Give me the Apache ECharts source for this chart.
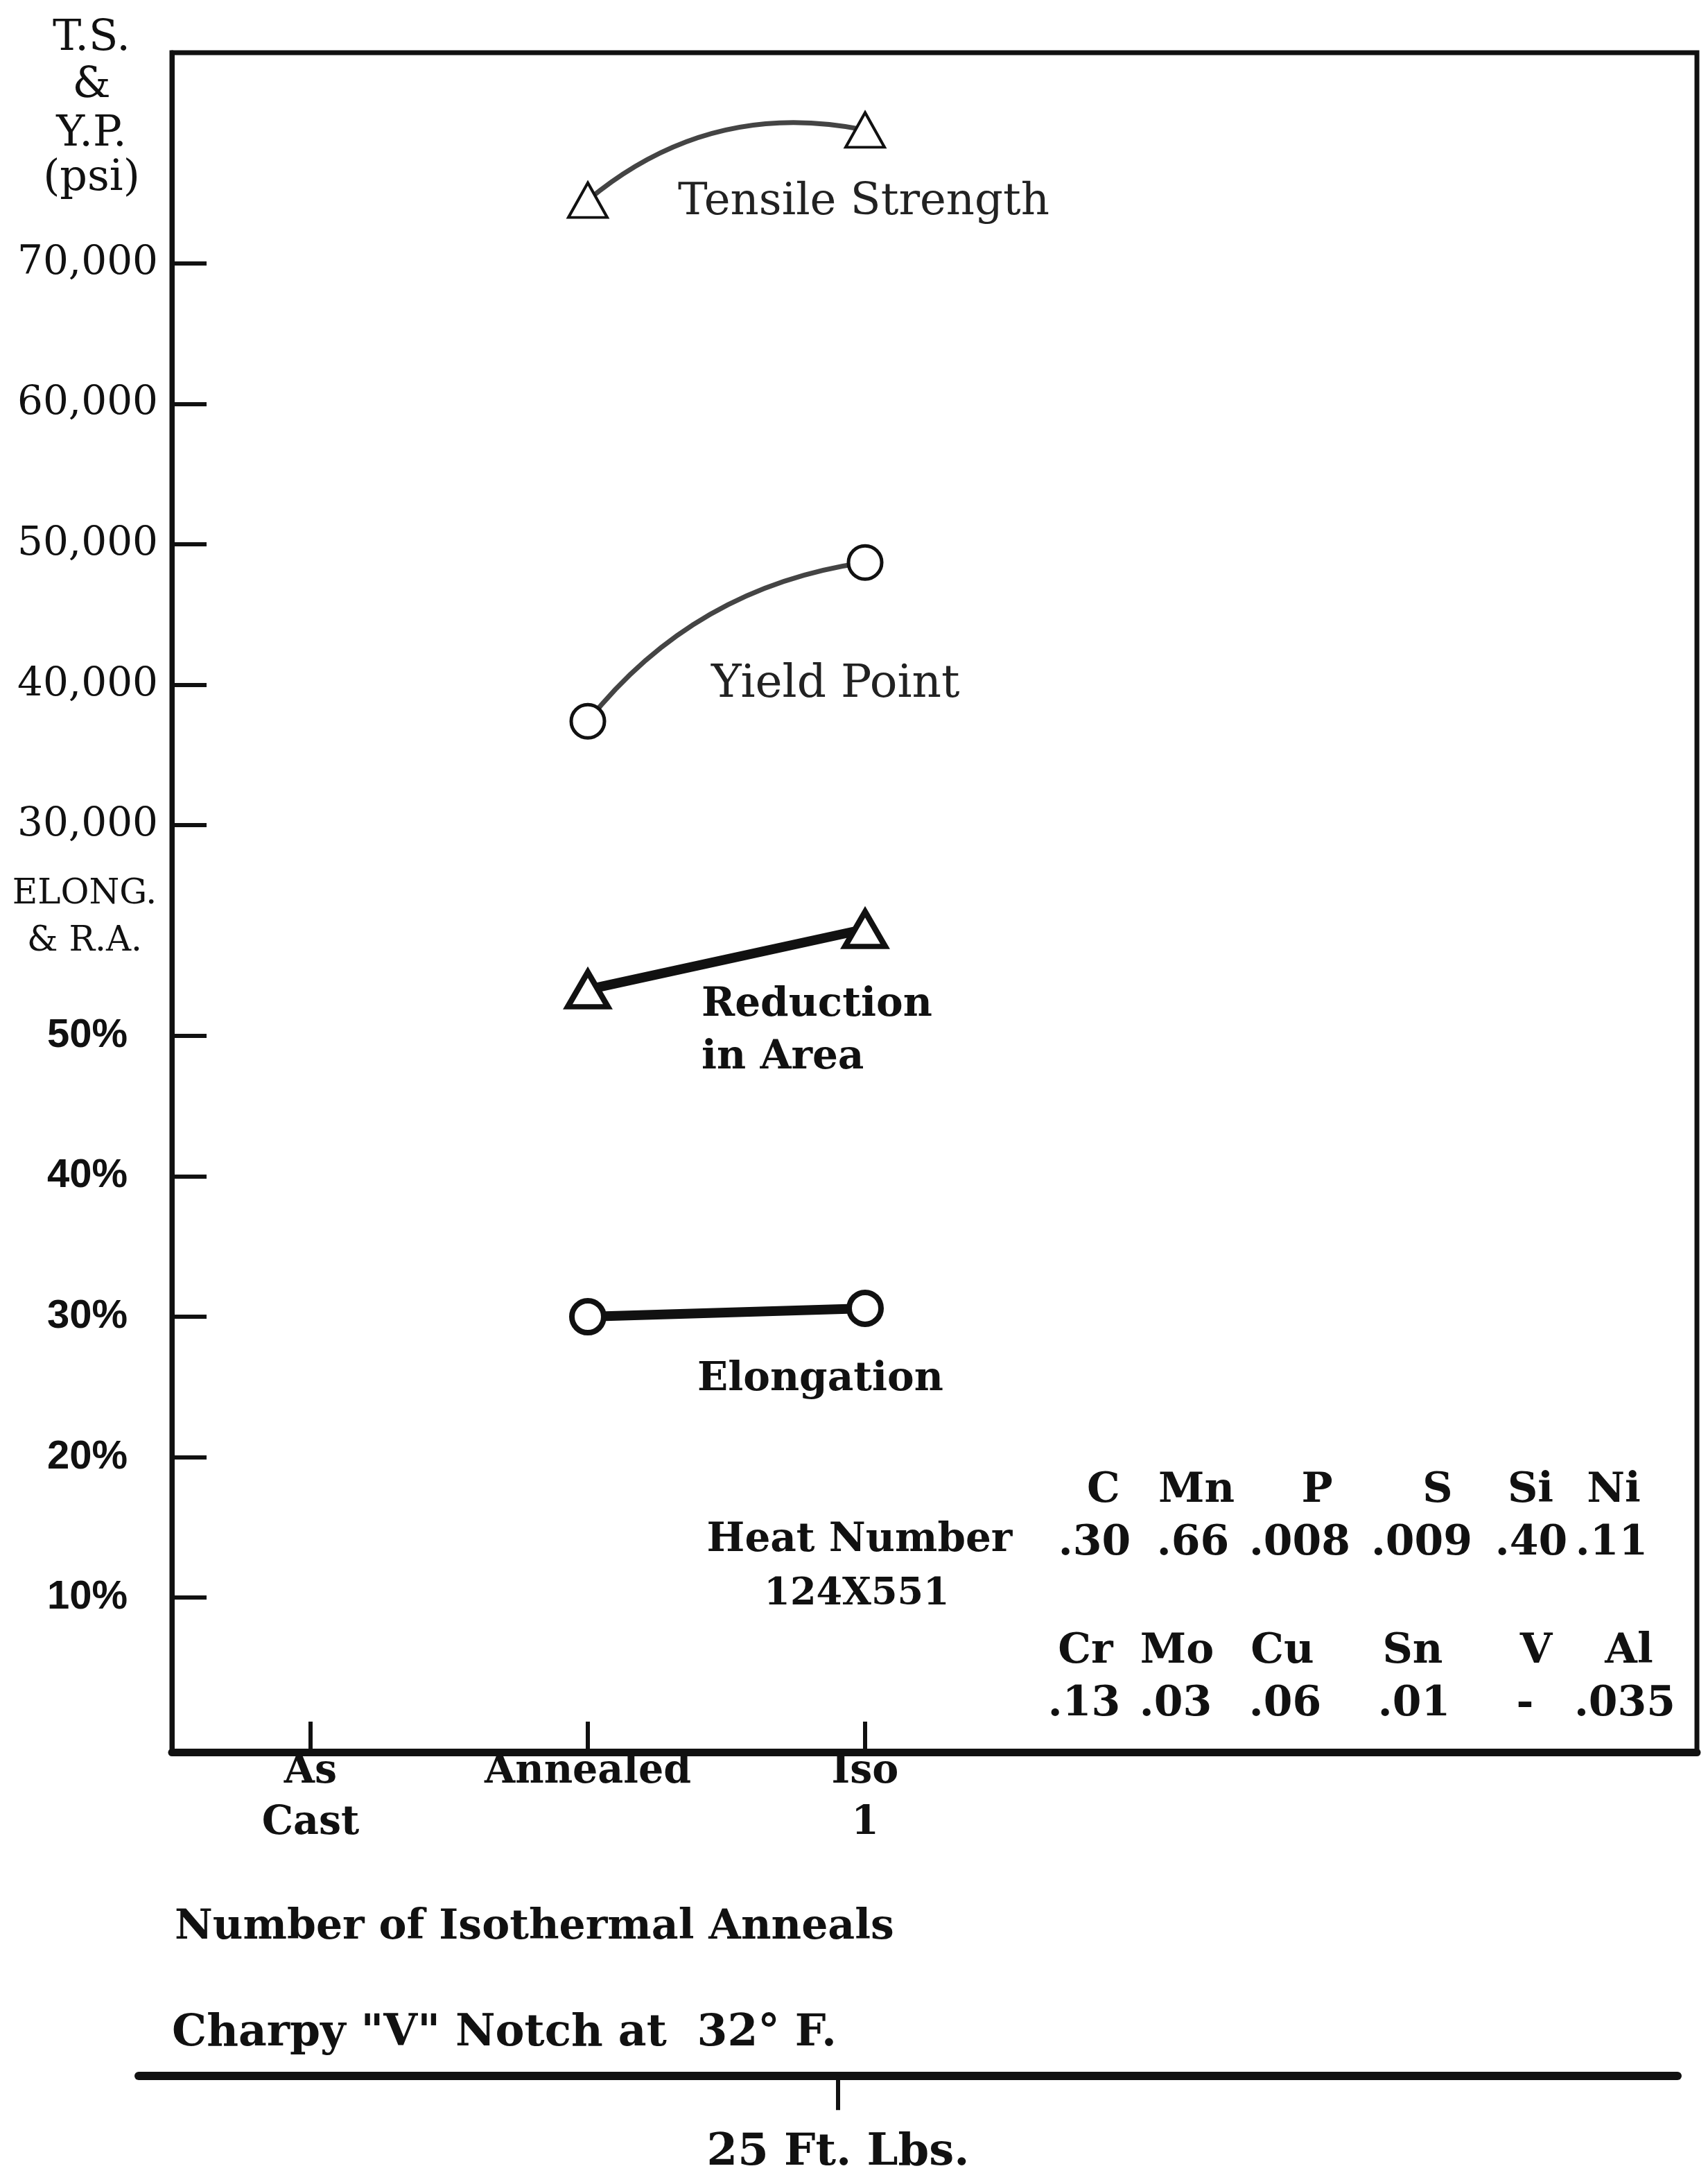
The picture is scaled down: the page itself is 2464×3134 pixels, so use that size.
<!DOCTYPE html>
<html>
<head>
<meta charset="utf-8">
<script src="https://cdn.jsdelivr.net/npm/echarts@6/dist/echarts.min.js"></script>
<style>
  html, body { margin: 0; padding: 0; background: #ffffff; }
  #chart { width: 2464px; height: 3134px; }
</style>
</head>
<body>
<div id="chart"></div>
<script>
// Treatment stages along the x axis
const categories = ['As\nCast', 'Annealed', 'Iso\n1'];

// Tensile properties per stage (no test at "As Cast")
const tensileStrength = [null, 74500, 79500];   // psi
const yieldPoint      = [null, 37400, 48700];   // psi
const reductionInArea = [null, 53.3, 57.6];     // %
const elongation      = [null, 30.0, 30.6];     // %

// Labelled ticks on the two left-hand scales
const psiTicks = [30000, 40000, 50000, 60000, 70000];
const pctTicks = [10, 20, 30, 40, 50];

// Charpy "V" notch energy scale
const charpyTicks = [25];

// Heat chemistry
const heatNumber = '124X551';
const chemNames1  = ['C', 'Mn', 'P', 'S', 'Si', 'Ni'];
const chemValues1 = ['.30', '.66', '.008', '.009', '.40', '.11'];
const chemNames2  = ['Cr', 'Mo', 'Cu', 'Sn', 'V', 'Al'];
const chemValues2 = ['.13', '.03', '.06', '.01', '-', '.035'];

// ---- layout -------------------------------------------------------------
const INK = '#111111';
const TYPE = 'DejaVu Serif';
const chemX1 = [1592, 1726, 1900, 2074, 2208, 2328];
const chemVX1 = [1579, 1721, 1875, 2051, 2209, 2325];
const chemX2 = [1566, 1698, 1850, 2038, 2216, 2350];
const chemVX2 = [1564, 1696, 1854, 2040, 2200, 2344];

function points(arr) {
  return arr.map((v, i) => (v == null ? null : [i, v])).filter(Boolean);
}

function txt(text, x, y, font, align, color) {
  return {
    type: 'text', x: x, y: y, z: 100, silent: true,
    style: { text: text, font: font, fill: color || INK, align: align || 'left', verticalAlign: 'middle' }
  };
}

const graphics = [];
// left scale titles
['T.S.', '&', 'Y.P.', '(psi)'].forEach((t, i) => {
  graphics.push(txt(t, 132, [56, 124, 194, 258][i], '62px "' + TYPE + '"', 'center'));
});
graphics.push(txt('ELONG.', 122, 1290, '50px "' + TYPE + '"', 'center'));
graphics.push(txt('& R.A.', 122, 1358, '50px "' + TYPE + '"', 'center'));

// curve labels
graphics.push(txt('Tensile Strength', 978, 292, '64px "' + TYPE + '"', 'left', '#222'));
graphics.push(txt('Yield Point', 1026, 988, '66px "' + TYPE + '"', 'left', '#222'));
graphics.push(txt('Reduction', 1012, 1450, 'bold 58px "' + TYPE + '"'));
graphics.push(txt('in Area', 1012, 1526, 'bold 58px "' + TYPE + '"'));
graphics.push(txt('Elongation', 1006, 1990, 'bold 58px "' + TYPE + '"'));

// heat number and chemistry table
graphics.push(txt('Heat Number', 1240, 2222, 'bold 58px "' + TYPE + '"', 'center'));
graphics.push(txt(heatNumber, 1236, 2300, 'bold 54px "' + TYPE + '"', 'center'));
chemNames1.forEach((t, i) => graphics.push(txt(t, chemX1[i], 2150, 'bold 60px "' + TYPE + '"', 'center')));
chemValues1.forEach((t, i) => graphics.push(txt(t, chemVX1[i], 2226, 'bold 60px "' + TYPE + '"', 'center')));
chemNames2.forEach((t, i) => graphics.push(txt(t, chemX2[i], 2382, 'bold 60px "' + TYPE + '"', 'center')));
chemValues2.forEach((t, i) => graphics.push(txt(t, chemVX2[i], 2458, 'bold 60px "' + TYPE + '"', 'center')));

// captions under the plot
graphics.push(txt('Number of Isothermal Anneals', 252, 2780, 'bold 60px "' + TYPE + '"'));
graphics.push(txt('Charpy "V" Notch at  32\u00B0 F.', 248, 2934, 'bold 63px "' + TYPE + '"'));

const chart = echarts.init(document.getElementById('chart'), null, { renderer: 'canvas' });

chart.setOption({
  backgroundColor: '#ffffff',
  animation: false,
  grid: [
    { left: 248, top: 76, width: 2200, height: 2451, show: true, borderColor: INK, borderWidth: 7, backgroundColor: 'transparent' },
    { left: 200, top: 2993, width: 2220, height: 1 }
  ],
  xAxis: [
    {
      gridIndex: 0, type: 'value', min: -0.5, max: 5, position: 'bottom',
      axisLine: { show: true, onZero: false, lineStyle: { color: INK, width: 11 } },
      axisTick: { show: true, inside: true, length: 44, customValues: [0, 1, 2], lineStyle: { color: INK, width: 6 } },
      axisLabel: {
        show: true, customValues: [0, 1, 2], formatter: v => categories[v],
        fontFamily: TYPE, fontWeight: 'bold', fontSize: 57, lineHeight: 74, color: INK, margin: -8
      },
      splitLine: { show: false }
    },
    {
      gridIndex: 1, type: 'value', min: 0, max: 55, position: 'bottom',
      axisLine: { show: true, onZero: false, lineStyle: { color: INK, width: 12 } },
      axisTick: { show: true, inside: false, length: 50, customValues: charpyTicks, lineStyle: { color: INK, width: 6 } },
      axisLabel: {
        show: true, customValues: charpyTicks, formatter: v => v + ' Ft. Lbs.',
        fontFamily: TYPE, fontWeight: 'bold', fontSize: 64, color: INK, margin: 80
      },
      splitLine: { show: false }
    }
  ],
  yAxis: [
    {
      gridIndex: 0, type: 'value', min: -36000, max: 85000, position: 'left',
      axisLine: { show: true, onZero: false, lineStyle: { color: INK, width: 7 } },
      axisTick: { show: true, inside: true, length: 50, customValues: psiTicks, lineStyle: { color: INK, width: 6 } },
      axisLabel: {
        show: true, customValues: psiTicks,
        formatter: v => v.toLocaleString('en-US'),
        fontFamily: TYPE, fontSize: 58, color: INK, margin: 20
      },
      splitLine: { show: false }
    },
    {
      gridIndex: 0, type: 'value', min: -1, max: 120, position: 'left', offset: 0,
      axisLine: { show: false, onZero: false },
      axisTick: { show: true, inside: true, length: 50, customValues: pctTicks, lineStyle: { color: INK, width: 6 } },
      axisLabel: {
        show: true, customValues: pctTicks, formatter: v => v + '%',
        fontFamily: 'Liberation Sans', fontWeight: 'bold', fontSize: 58, color: INK, margin: 64
      },
      splitLine: { show: false }
    },
    { gridIndex: 1, type: 'value', min: 0, max: 1, show: false }
  ],
  series: [
    {
      name: 'Tensile Strength curve', type: 'lines', coordinateSystem: 'cartesian2d',
      xAxisIndex: 0, yAxisIndex: 0, polyline: false, silent: true, z: 2,
      lineStyle: { color: '#444', width: 7, curveness: 0.24, opacity: 1 },
      data: [{ coords: points(tensileStrength) }]
    },
    {
      name: 'Tensile Strength', type: 'scatter', xAxisIndex: 0, yAxisIndex: 0, z: 5,
      symbol: 'triangle', symbolSize: [56, 50],
      itemStyle: { color: '#fff', borderColor: INK, borderWidth: 4, opacity: 1 },
      data: points(tensileStrength)
    },
    {
      name: 'Yield Point curve', type: 'lines', coordinateSystem: 'cartesian2d',
      xAxisIndex: 0, yAxisIndex: 0, polyline: false, silent: true, z: 2,
      lineStyle: { color: '#444', width: 7, curveness: 0.2, opacity: 1 },
      data: [{ coords: points(yieldPoint) }]
    },
    {
      name: 'Yield Point', type: 'scatter', xAxisIndex: 0, yAxisIndex: 0, z: 5,
      symbol: 'circle', symbolSize: 48,
      itemStyle: { color: '#fff', borderColor: INK, borderWidth: 5, opacity: 1 },
      data: points(yieldPoint)
    },
    {
      name: 'Reduction in Area', type: 'line', xAxisIndex: 0, yAxisIndex: 1, z: 4,
      symbol: 'triangle', symbolSize: [58, 50], showSymbol: true,
      lineStyle: { color: INK, width: 14 },
      itemStyle: { color: '#fff', borderColor: INK, borderWidth: 8 },
      data: points(reductionInArea)
    },
    {
      name: 'Elongation', type: 'line', xAxisIndex: 0, yAxisIndex: 1, z: 4,
      symbol: 'circle', symbolSize: 46, showSymbol: true,
      lineStyle: { color: INK, width: 14 },
      itemStyle: { color: '#fff', borderColor: INK, borderWidth: 8 },
      data: points(elongation)
    }
  ],
  graphic: graphics
});
</script>
</body>
</html>
